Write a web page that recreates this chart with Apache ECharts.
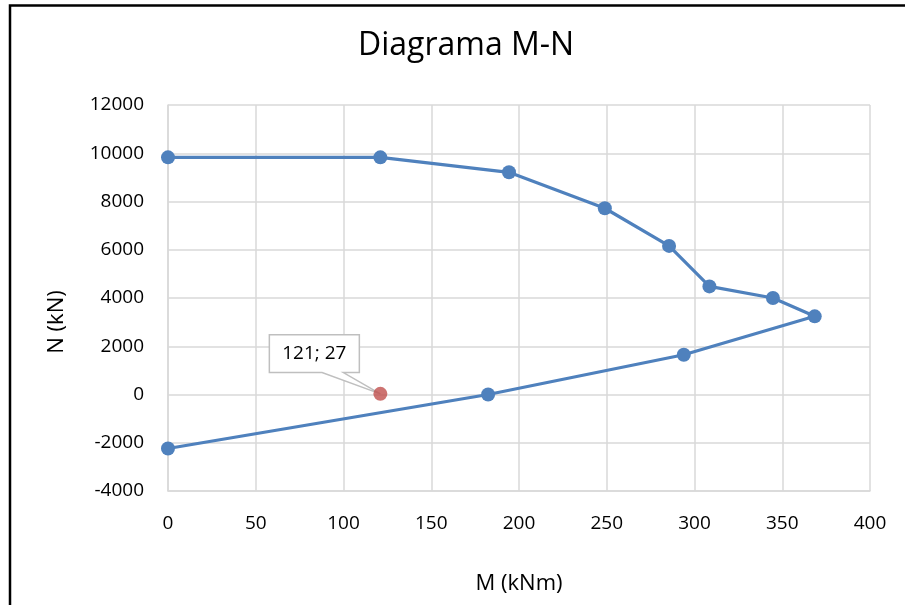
<!DOCTYPE html>
<html>
<head>
<meta charset="utf-8">
<script src="https://cdn.jsdelivr.net/npm/echarts@6/dist/echarts.min.js"></script>
<style>
html,body{margin:0;padding:0;background:#fff;}
#chart{width:905px;height:605px;}
</style>
</head>
<body>
<div id="chart"></div>
<script>
// Interaction diagram M-N
const curveM = [0, 121, 194.3, 248.9, 285.5, 308.5, 344.7, 368.5, 293.9, 182.4, 0];
const curveN = [9830, 9830, 9210, 7720, 6160, 4480, 4000, 3240, 1650, 0, -2240];
const pointM = [121];
const pointN = [27];
const pointLabels = ['121; 27'];
const xTicks = {min: 0, max: 400, interval: 50};
const yTicks = {min: -4000, max: 12000, interval: 2000};

const curveData = curveM.map((m, i) => [m, curveN[i]]);
const pointData = pointM.map((m, i) => [m, pointN[i]]);

const font = '"Open Sans", "Noto Sans", sans-serif';
const chart = echarts.init(document.getElementById('chart'), null, {renderer: 'canvas'});

function renderCallout(params, api) {
  const p = api.coord([api.value(0), api.value(1)]);
  const x = p[0], y = p[1];
  const L = x - 111, R = x - 21, T = y - 59, B = y - 21.3;
  return {
    type: 'group',
    children: [
      {
        type: 'polygon',
        shape: {points: [[L, T], [R, T], [R, B], [x - 37, B], [x, y], [x - 58.3, B], [L, B]]},
        style: {fill: '#fff', stroke: '#bfbfbf', lineWidth: 1.5}
      },
      {
        type: 'text',
        style: {
          x: (L + R) / 2, y: (T + B) / 2,
          text: pointLabels[params.dataIndex],
          fontFamily: font, fontSize: 19, fill: '#000',
          align: 'center', verticalAlign: 'middle'
        }
      }
    ]
  };
}

chart.setOption({
  animation: false,
  backgroundColor: '#ffffff',
  title: {
    text: 'Diagrama M-N',
    left: 353,
    top: 25,
    textStyle: {fontFamily: font, fontSize: 32, fontWeight: 'normal', color: '#000'}
  },
  grid: {left: 168, right: 35, top: 105, bottom: 114},
  xAxis: {
    type: 'value',
    min: xTicks.min, max: xTicks.max, interval: xTicks.interval,
    name: 'M (kNm)',
    nameLocation: 'middle',
    nameGap: 82,
    nameTextStyle: {fontFamily: font, fontSize: 22, color: '#000'},
    axisLine: {show: true, onZero: false, lineStyle: {color: '#d9d9d9', width: 1.5}},
    axisTick: {show: false},
    axisLabel: {fontFamily: font, fontSize: 19, color: '#000', margin: 23},
    splitLine: {show: true, lineStyle: {color: '#d9d9d9', width: 1.5}}
  },
  yAxis: {
    type: 'value',
    min: yTicks.min, max: yTicks.max, interval: yTicks.interval,
    name: 'N (kN)',
    nameLocation: 'middle',
    nameRotate: 90,
    nameGap: 100,
    nameTextStyle: {fontFamily: font, fontSize: 22, color: '#000', padding: [0, 48, 0, 0]},
    axisLine: {show: true, onZero: false, lineStyle: {color: '#d9d9d9', width: 1.5}},
    axisTick: {show: false},
    axisLabel: {fontFamily: font, fontSize: 19, color: '#000', margin: 24, formatter: v => String(v)},
    splitLine: {show: true, lineStyle: {color: '#d9d9d9', width: 1.5}}
  },
  series: [
    {
      type: 'line',
      data: curveData,
      symbol: 'circle',
      symbolSize: 14,
      lineStyle: {color: '#4f81bd', width: 3.2},
      itemStyle: {color: '#4f81bd'},
      z: 2
    },
    {
      type: 'custom',
      data: pointData,
      renderItem: renderCallout,
      z: 3,
      silent: true
    },
    {
      type: 'scatter',
      data: pointData,
      symbol: 'circle',
      symbolSize: 14,
      itemStyle: {color: '#c0504d'},
      z: 4
    }
  ],
  graphic: [
    {
      type: 'rect',
      shape: {x: 10, y: 5.5, width: 1200, height: 1200},
      style: {fill: 'none', stroke: '#000', lineWidth: 2.5},
      silent: true,
      z: 100
    }
  ]
});
</script>
</body>
</html>
